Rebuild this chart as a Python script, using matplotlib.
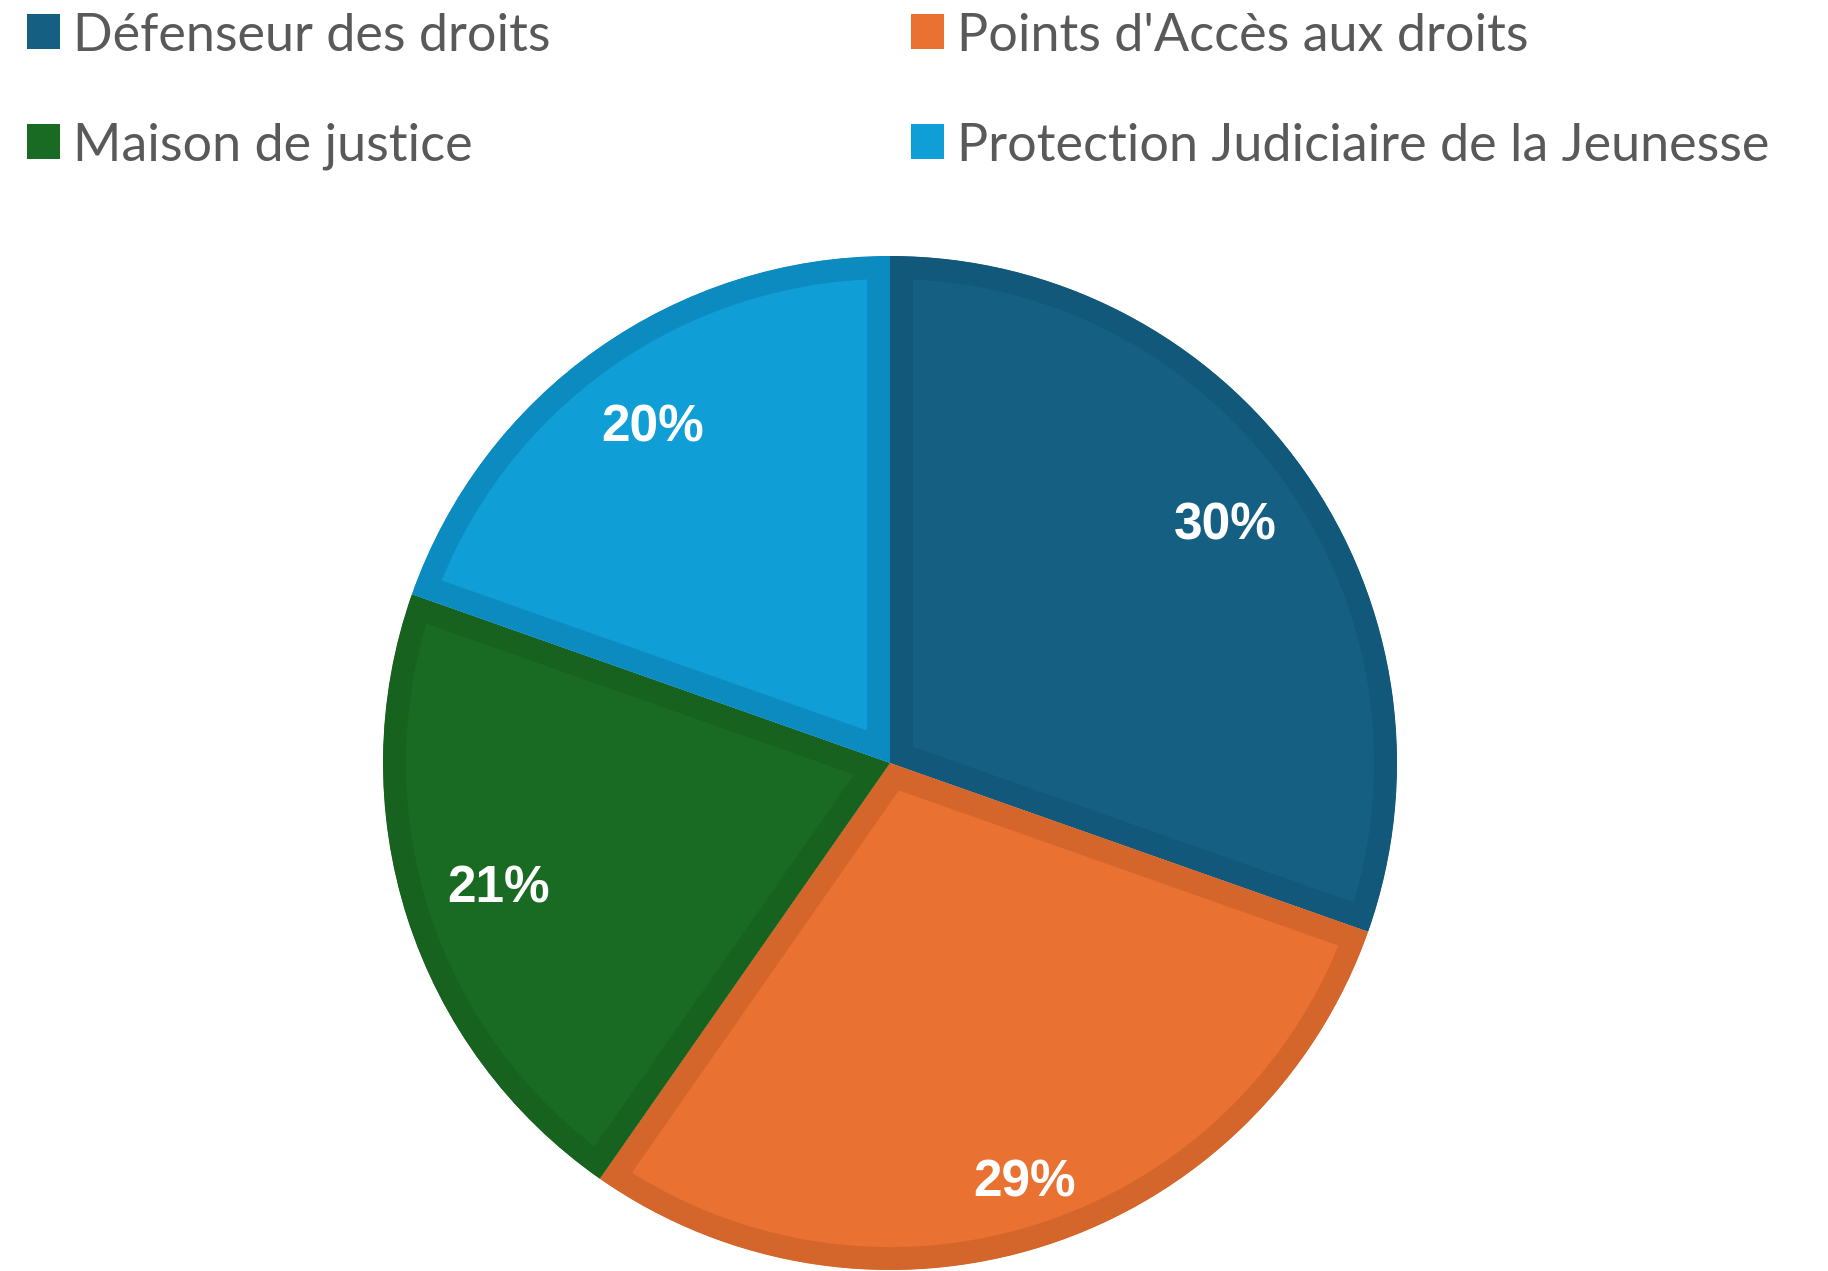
"""
Répartition des saisines par structure - camembert
"""

import numpy as np
import matplotlib
matplotlib.use('Agg')
import matplotlib.pyplot as plt
import matplotlib.patches as mpatches

# Données
structures = ["Défenseur des droits", "Points d'Accès aux droits",
              "Maison de justice", "Protection Judiciaire de la Jeunesse"]
parts = [30.4, 29.3, 20.7, 19.6]

couleurs = ['#156082', '#E97132', '#196B24', '#0F9ED5']
bordures = ['#12587A', '#D4662C', '#17621F', '#0B8BC0']

W, H = 1828, 1271
fig = plt.figure(figsize=(W / 100, H / 100), dpi=100, facecolor='white')

# Camembert : centre (890, 763) px, rayon 507 px
cx, cy, R = 890, 763, 507
ax = fig.add_axes([(cx - R) / W, (H - cy - R) / H, 2 * R / W, 2 * R / H])

wedges, texts, autotexts = ax.pie(
    parts, colors=couleurs, startangle=90, counterclock=False,
    autopct='%.0f%%', pctdistance=0.81,
    textprops={'color': 'white', 'fontsize': 37, 'fontweight': 'bold',
               'family': 'Liberation Sans'},
)

# Bordure plus sombre, dessinée à l'intérieur de chaque part
for w, bc in zip(wedges, bordures):
    w.set_edgecolor(bc)
    w.set_linewidth(33)
    w.set_joinstyle('miter')
    w.set_clip_on(True)
    w.set_clip_path(w)

# étiquette 29% un peu plus vers l'extérieur
theta = np.deg2rad((wedges[1].theta1 + wedges[1].theta2) / 2)
autotexts[1].set_position((0.87 * np.cos(theta), 0.87 * np.sin(theta)))

ax.set_xlim(-1, 1)
ax.set_ylim(-1, 1)
ax.set_aspect('auto')
ax.axis('off')

# Légende (2 colonnes)
pos_x = [27, 911]
pos_y = [32, 142]
for i, (lab, c) in enumerate(zip(structures, couleurs)):
    x = pos_x[i % 2]
    y = pos_y[i // 2]
    fig.patches.append(mpatches.Rectangle(
        (x / W, (H - y - 17) / H), 33 / W, 35 / H,
        transform=fig.transFigure, facecolor=c, edgecolor='none'))
    fig.text((x + 46) / W, (H - y) / H, lab, fontsize=37.5, color='#595959',
             family='Lato', va='center_baseline', ha='left')

fig.savefig('out.png', dpi=100, facecolor='white')
plt.close('all')
